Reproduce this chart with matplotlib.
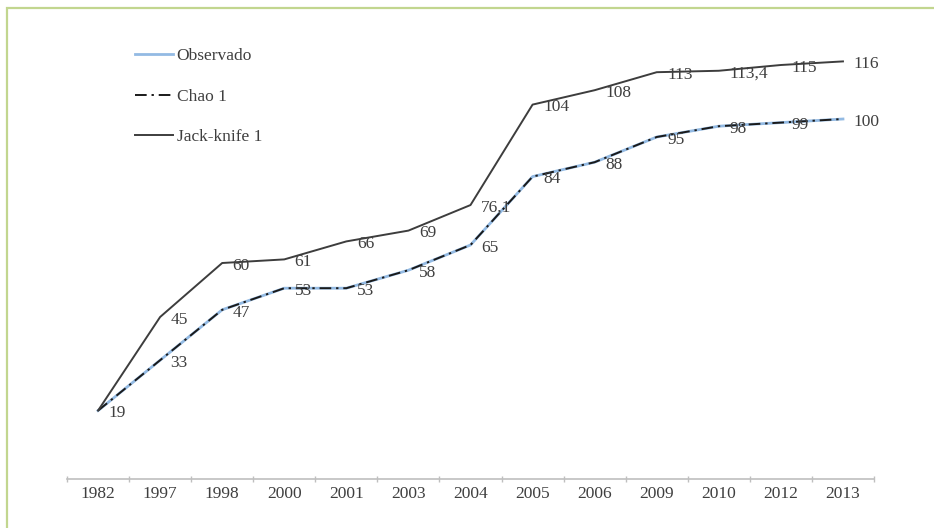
import matplotlib.pyplot as plt
from matplotlib.patches import Rectangle

# Riqueza de especies acumulada por año de muestreo
years = ["1982", "1997", "1998", "2000", "2001", "2003", "2004",
         "2005", "2006", "2009", "2010", "2012", "2013"]
observado = [19, 33, 47, 53, 53, 58, 65, 84, 88, 95, 98, 99, 100]
chao1 = [19, 33, 47, 53, 53, 58, 65, 84, 88, 95, 98, 99, 100]
jackknife1 = [19, 45, 60, 61, 66, 69, 76.1, 104, 108, 113, 113.4, 115, 116]

W, H = 934, 528
fig = plt.figure(figsize=(W / 100, H / 100), dpi=100)
plt.rcParams['font.family'] = ['Liberation Serif', 'DejaVu Serif']
txt = '#3f3f3f'
fs = 12.5

# marco verde alrededor del gráfico
fig.patches.append(Rectangle((7 / W, -0.1), 1.2, 1 - 8 / H + 0.1,
                             transform=fig.transFigure, fill=False,
                             edgecolor='#c2d68f', linewidth=1.6))

ax = fig.add_axes([67 / W, (H - 479) / H, (874 - 67) / W, (479 - 47) / H])
x = list(range(len(years)))

ax.plot(x, observado, color='#93bae3', lw=2.0, label='Observado', zorder=2)
ax.plot(x, chao1, color='#1a1a1a', lw=1.4, linestyle=(0, (6, 2.5, 1.2, 2.5)),
        label='Chao 1', zorder=3)
ax.plot(x, jackknife1, color='#3d3d3d', lw=1.4, label='Jack-knife 1', zorder=3)

def fmt(v):
    return f"{v:g}".replace('.', ',')

for xi, v in zip(x[1:], observado[1:]):
    ax.annotate(fmt(v), (xi, v), xytext=(7.5, -2), textcoords='offset points',
                ha='left', va='center', fontsize=fs, color=txt)
for xi, v in zip(x, jackknife1):
    ax.annotate(fmt(v), (xi, v), xytext=(7.5, -2), textcoords='offset points',
                ha='left', va='center', fontsize=fs, color=txt)

ax.set_xlim(-0.5, len(years) - 0.5)
ax.set_ylim(0, 120)
ax.set_xticks(x)
ax.set_xticklabels(years, fontsize=fs, color=txt)
ax.set_xticks([i - 0.5 for i in range(len(years) + 1)], minor=True)
ax.tick_params(axis='x', which='major', length=0, pad=5)
ax.tick_params(axis='x', which='minor', length=4, direction='inout',
               color='#bfbfbf', width=1)
ax.set_yticks([])
for side in ('left', 'right', 'top'):
    ax.spines[side].set_visible(False)
ax.spines['bottom'].set_color('#bfbfbf')
ax.spines['bottom'].set_linewidth(1.2)
ax.patch.set_alpha(0)

fig.legend(loc='upper left', bbox_to_anchor=(135 / W, 1 - 48 / H),
           frameon=False, fontsize=fs, labelcolor=txt,
           borderpad=0, borderaxespad=0,
           handlelength=2.2, handletextpad=0.2, labelspacing=1.4)

fig.savefig('out.png', dpi=100, facecolor='white')
